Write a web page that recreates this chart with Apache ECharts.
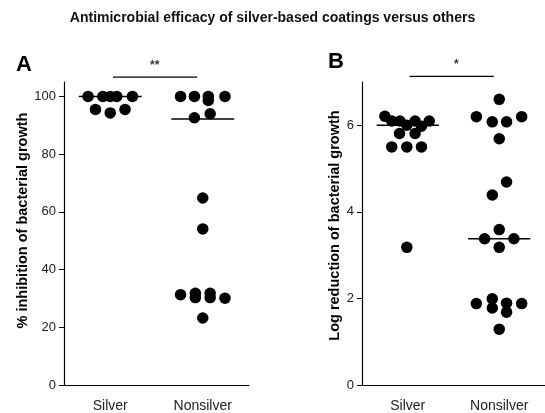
<!DOCTYPE html>
<html>
<head>
<meta charset="utf-8">
<script src="https://cdn.jsdelivr.net/npm/echarts@6/dist/echarts.min.js"></script>
<style>html,body{margin:0;padding:0;background:#fff}#c{width:545px;height:413px}</style>
</head>
<body>
<div id="c"></div>
<script>
// ---- data ----
const categories = ['Silver', 'Nonsilver'];
const titleText = 'Antimicrobial efficacy of silver-based coatings versus others';
const yNameA = '% inhibition of bacterial growth';
const yNameB = 'Log reduction of bacterial growth';
// [horizontal jitter offset from category centre, value]
const silverA = [[-0.24,100],[-0.08,100],[0,100],[0.07,100],[0.24,100],[-0.16,95.5],[0,94.3],[0.16,95.5]];
const nonsilverA = [[-0.24,100],[-0.09,100],[0.06,100],[0.06,98.6],[0.24,100],[-0.09,92.6],[0.08,94.0],
  [0,64.8],[0,54.1],[-0.24,31.3],[-0.08,31.8],[-0.08,30.3],[0.08,31.8],[0.08,30.3],[0.24,30.1],[0,23.2]];
const silverB = [[-0.25,6.21],[-0.175,6.10],[-0.085,6.10],[0.08,6.10],[0.235,6.10],[-0.01,6.0],[0.15,5.98],
  [-0.09,5.81],[0.08,5.81],[-0.175,5.50],[-0.01,5.50],[0.15,5.50],[-0.01,3.18]];
const nonsilverB = [[0,6.60],[-0.25,6.20],[0.245,6.20],[-0.076,6.08],[0.08,6.08],[0,5.69],[0.08,4.69],[-0.076,4.39],
  [0,3.59],[-0.16,3.38],[0.16,3.38],[0,3.18],[-0.25,1.88],[-0.076,1.99],[-0.076,1.78],[0.08,1.89],[0.08,1.68],[0.245,1.88],[0,1.29]];
const mediansA = [100, 92.2];
const mediansB = [6.0, 3.38];
const medianHalfWidth = 0.34;
const yTicksA = [0, 20, 40, 60, 80, 100];
const yTicksB = [0, 2, 4, 6];
const yRangeA = [0, 105];
const yRangeB = [0, 7];
const sigA = {x: [0.53, 1.44], y: 106.7, labelX: 0.98, labelY: 110.8, text: '**'};
const sigB = {x: [0.52, 1.44], y: 7.13, labelX: 1.03, labelY: 7.39, text: '*'};

// ---- build ----
const FONT = 'Liberation Sans, Arial, sans-serif';
function pts(arr, idx) { return arr.map(d => [idx + 0.5 + d[0], d[1]]); }
function medianSeries(meds, xi, yi) {
  return meds.map((m, i) => ({
    type: 'line', xAxisIndex: xi, yAxisIndex: yi, symbol: 'none', silent: true,
    lineStyle: {color: '#000', width: 1.4}, z: 3,
    data: [[i + 0.5 - medianHalfWidth, m], [i + 0.5 + medianHalfWidth, m]]
  }));
}
function sigSeries(s, xi, yi) {
  return [
    {type: 'line', xAxisIndex: xi, yAxisIndex: yi, symbol: 'none', clip: false, silent: true,
     lineStyle: {color: '#000', width: 1.2}, data: [[s.x[0], s.y], [s.x[1], s.y]]},
    {type: 'scatter', xAxisIndex: xi, yAxisIndex: yi, symbolSize: 0, clip: false, silent: true,
     label: {show: true, position: 'inside', formatter: s.text, color: '#000', fontSize: 12, fontWeight: 'bold', fontFamily: FONT},
     data: [[s.labelX, s.labelY]]}
  ];
}
function dots(arr, idx, xi, yi) {
  return {type: 'scatter', xAxisIndex: xi, yAxisIndex: yi, symbol: 'circle', symbolSize: 11.5,
    itemStyle: {color: '#000', opacity: 1}, z: 4, data: pts(arr, idx)};
}
function catAxis(gi) {
  return {type: 'category', gridIndex: gi, data: categories, boundaryGap: true,
    axisLine: {lineStyle: {color: '#000', width: 1.2}},
    axisTick: {alignWithLabel: true, length: 4, lineStyle: {color: '#000'}},
    axisLabel: {color: '#222', fontSize: 14, fontFamily: FONT, margin: 14}};
}
function valX(gi) { return {type: 'value', gridIndex: gi, min: 0, max: 2, show: false}; }
function valY(gi, range, ticks, name, gap, pad) {
  return {type: 'value', gridIndex: gi, min: range[0], max: range[1],
    name: name, nameLocation: 'middle', nameGap: gap,
    nameTextStyle: {color: '#000', fontSize: 14.5, fontWeight: 'bold', fontFamily: FONT, padding: [0, 0, 0, pad]},
    axisLine: {show: true, lineStyle: {color: '#000', width: 1.2}},
    axisTick: {show: true, length: 5, lineStyle: {color: '#000'}, customValues: ticks},
    splitLine: {show: false},
    axisLabel: {color: '#222', fontSize: 13, fontFamily: FONT, margin: 8, customValues: ticks}};
}

const option = {
  backgroundColor: '#fff',
  animation: false,
  title: [
    {text: titleText, left: 'center', top: 6, textStyle: {fontSize: 14, fontWeight: 'bold', color: '#111', fontFamily: FONT}},
    {text: 'A', left: 11, top: 49, textStyle: {fontSize: 22, fontWeight: 'bold', color: '#000', fontFamily: FONT}},
    {text: 'B', left: 323, top: 46, textStyle: {fontSize: 22, fontWeight: 'bold', color: '#000', fontFamily: FONT}}
  ],
  grid: [
    {left: 64, right: 296, top: 82, bottom: 28},
    {left: 362, right: 0, top: 82, bottom: 28}
  ],
  xAxis: [catAxis(0), valX(0), catAxis(1), valX(1)],
  yAxis: [valY(0, yRangeA, yTicksA, yNameA, 33, 26), valY(1, yRangeB, yTicksB, yNameB, 19, 16)],
  series: [
    dots(silverA, 0, 1, 0), dots(nonsilverA, 1, 1, 0),
    dots(silverB, 0, 3, 1), dots(nonsilverB, 1, 3, 1),
    ...medianSeries(mediansA, 1, 0), ...medianSeries(mediansB, 3, 1),
    ...sigSeries(sigA, 1, 0), ...sigSeries(sigB, 3, 1)
  ]
};
const chart = echarts.init(document.getElementById('c'), null, {renderer: 'canvas'});
chart.setOption(option);
</script>
</body>
</html>
